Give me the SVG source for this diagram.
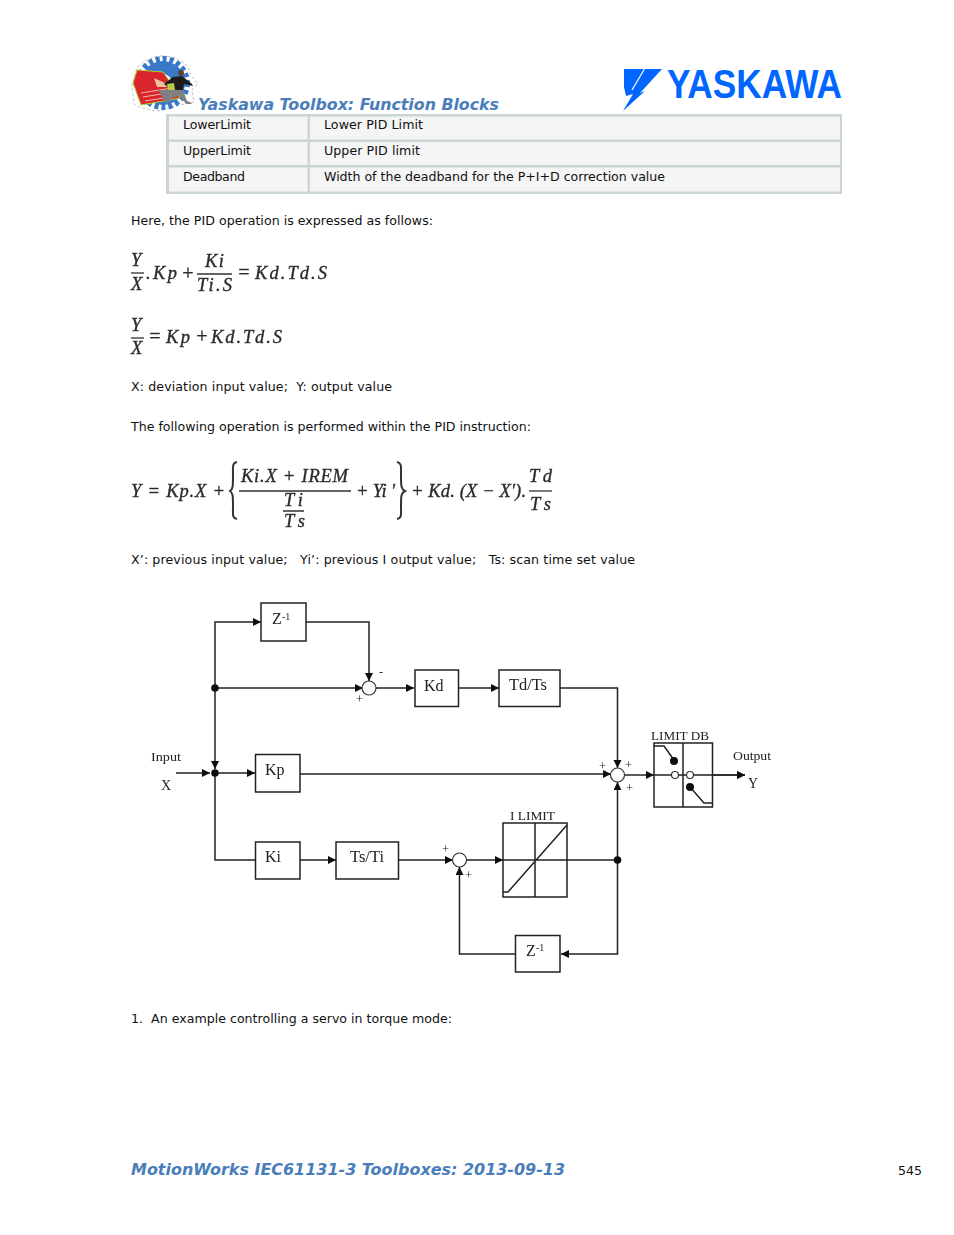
<svg xmlns="http://www.w3.org/2000/svg" width="954" height="1235" viewBox="0 0 954 1235">
<style>
.b{font-family:"DejaVu Sans","Liberation Sans",sans-serif;font-size:12.6px;fill:#111;white-space:pre}
.h{font-family:"DejaVu Sans","Liberation Sans",sans-serif;font-weight:bold;font-style:italic;fill:#4a7ebb}
.m{font-family:"Liberation Serif",serif;font-style:italic;font-size:18.5px;fill:#2b2b2b;stroke:#2b2b2b;stroke-width:.35}
.d{font-family:"Liberation Serif",serif;font-size:16px;fill:#222}
.s{font-family:"Liberation Serif",serif;font-size:12.5px;fill:#222}
.box{fill:#fff;stroke:#222;stroke-width:1.5}
.ln{fill:none;stroke:#222;stroke-width:1.5}
.ar{marker-end:url(#a)}
.o{fill:#fff;stroke:#333;stroke-width:1.2}
.bar{stroke:#333;stroke-width:1.3;fill:none}
.c{fill:#ccd5d5}
</style>
<defs>
<marker id="a" markerUnits="userSpaceOnUse" markerWidth="9" markerHeight="9" refX="8" refY="4" orient="auto"><path d="M0,0L8,4L0,8Z" fill="#111"/></marker>
<filter id="soft" x="-5%" y="-5%" width="110%" height="110%"><feGaussianBlur stdDeviation=".35"/></filter>
</defs>
<rect width="954" height="1235" fill="#fff"/>

<g id="toolbox-logo">
<path d="M162,56C180,56 190,66 190,74L198,84L192,90L194,102L176,106L160,111C145,110 137,106 134,104L132,84L137,68C145,60 152,56 162,56Z" fill="#fff" stroke="#c4c4c4" stroke-width="1" stroke-dasharray="3 2"/>
<circle cx="163" cy="83" r="24" fill="none" stroke="#3a78c8" stroke-width="6" stroke-dasharray="4 3"/>
<circle cx="163" cy="83" r="22" fill="#3a78c8"/>
<circle cx="163" cy="83" r="9" fill="#fff"/>
<path d="M137,70L163,72L178,93L180,98L141,105L133,83Z" fill="#d8262c" stroke="#b7d12a" stroke-width="1"/>
<path d="M141,93L172,88M143,97L174,92M145,101L176,96" stroke="#f3b7a6" stroke-width="1"/>
<path d="M154,78L165,83L167,87L157,87Z" fill="#efbf9f"/>
<path d="M173,77L182,76L192,84L193,86L184,84L183,90L172,90L164,84Z" fill="#1c1c1c"/>
<circle cx="181" cy="73" r="3" fill="#5e4234"/>
<path d="M167,84L174,83L175,90L168,90Z" fill="#b6cc45"/>
<path d="M172,90L183,90L187,101L190,102L192,104L186,104L180,96L172,98L166,104L158,90Z" fill="#808080"/>
</g>
<text id="header-title" class="h" x="198" y="110" font-size="16" textLength="301" lengthAdjust="spacingAndGlyphs">Yaskawa Toolbox: Function Blocks</text>
<g id="yaskawa-logo">
<path d="M624,69H662L640,93L645,91L623,111L633,94L626,96L624,87Z" fill="#0066ff"/>
<path d="M645,68L632,90" stroke="#fff" stroke-width="1.2"/>
<text x="667" y="98" font-family="Liberation Sans,sans-serif" font-weight="bold" font-size="41" fill="#0066ff" textLength="175" lengthAdjust="spacingAndGlyphs">YASKAWA</text>
</g>

<g id="table">
<rect x="166" y="114" width="676" height="80" class="c"/>
<rect x="169" y="116.500" width="138.500" height="23" fill="#f5f5f5"/><rect x="310" y="116.500" width="530" height="23" fill="#f5f5f5"/>
<rect x="169" y="142" width="138.500" height="23" fill="#f5f5f5"/><rect x="310" y="142" width="530" height="23" fill="#f5f5f5"/>
<rect x="169" y="167.500" width="138.500" height="24" fill="#f5f5f5"/><rect x="310" y="167.500" width="530" height="24" fill="#f5f5f5"/>
<text class="b" x="183" y="129" textLength="68">LowerLimit</text><text class="b" x="324" y="129" textLength="99">Lower PID Limit</text>
<text class="b" x="183" y="155" textLength="68">UpperLimit</text><text class="b" x="324" y="155" textLength="96">Upper PID limit</text>
<text class="b" x="183" y="181" textLength="62">Deadband</text><text class="b" x="324" y="181" textLength="341">Width of the deadband for the P+I+D correction value</text>
</g>

<text class="b" x="131" y="225" textLength="302">Here, the PID operation is expressed as follows:</text>
<text class="b" x="131" y="391" textLength="261">X: deviation input value;  Y: output value</text>
<text class="b" x="131" y="431" textLength="400">The following operation is performed within the PID instruction:</text>
<text class="b" x="131" y="564" textLength="504">X’: previous input value;   Yi’: previous I output value;   Ts: scan time set value</text>
<text class="b" x="131" y="1023" textLength="321">1.  An example controlling a servo in torque mode:</text>

<g id="equations" filter="url(#soft)">
<text class="m" x="131" y="266">Y</text>
<path class="bar" d="M131,273H144"/>
<text class="m" x="131" y="290">X</text>
<text class="m" x="146" y="279" textLength="31">.Kp</text>
<text class="m" x="181" y="280" style="font-size:20px">+</text>
<text class="m" x="205" y="267" textLength="19">Ki</text>
<path class="bar" d="M197,274H232"/>
<text class="m" x="197" y="291" textLength="35">Ti.S</text>
<text class="m" x="237" y="279" style="font-size:20px">=</text>
<text class="m" x="255" y="279" textLength="72">Kd.Td.S</text>

<text class="m" x="131" y="331">Y</text>
<path class="bar" d="M131,338H144"/>
<text class="m" x="131" y="354">X</text>
<text class="m" x="148" y="343" style="font-size:20px">=</text>
<text class="m" x="166" y="343" textLength="24">Kp</text>
<text class="m" x="195" y="343" style="font-size:20px">+</text>
<text class="m" x="211" y="343" textLength="71">Kd.Td.S</text>

<text class="m" x="131" y="497" textLength="94">Y = Kp.X +</text>
<path d="M237,462C232,463 233,467 233,476C233,486 233,489 230,491C233,493 233,496 233,506C233,515 232,518 237,519" fill="none" stroke="#333" stroke-width="2"/>
<text class="m" x="241" y="482" textLength="107">Ki.X + IREM</text>
<path class="bar" d="M239,491H351M283,511H304"/>
<text class="m" x="284" y="506" textLength="19">Ti</text>
<text class="m" x="284" y="527" textLength="21">Ts</text>
<text class="m" x="356" y="497" textLength="39">+ Yi ′</text>
<path d="M397,462C402,463 401,467 401,476C401,486 401,489 405,491C401,493 401,496 401,506C401,515 402,518 397,519" fill="none" stroke="#333" stroke-width="2"/>
<text class="m" x="411" y="497" textLength="115">+ Kd. (X − X′).</text>
<text class="m" x="529" y="482" textLength="23">Td</text>
<path class="bar" d="M529,491H552"/>
<text class="m" x="530" y="510" textLength="21">Ts</text>
</g>

<g id="connectors" filter="url(#soft)">
<path class="ln ar" d="M176,773H210"/>
<path class="ln ar" d="M215,773H255"/>
<path class="ln ar" d="M215,688V622H261"/>
<path class="ln ar" d="M215,688V769"/>
<path class="ln" d="M215,773V860H255"/>
<path class="ln ar" d="M215,688H363"/>
<path class="ln ar" d="M306,622H369V681"/>
<path class="ln ar" d="M376,688H414"/>
<path class="ln ar" d="M458,688H499"/>
<path class="ln ar" d="M560,688H617.5V768"/>
<path class="ln ar" d="M300,774H611"/>
<path class="ln ar" d="M625,775H654"/>
<path class="ln ar" d="M654,775H745"/>
<path class="ln ar" d="M617.5,860V782"/>
<path class="ln ar" d="M300,860H336"/>
<path class="ln ar" d="M398,860H453"/>
<path class="ln ar" d="M467,860H503"/>
<path class="ln ar" d="M617.5,860V954H561"/>
<path class="ln ar" d="M515,954H459.5V867"/>
<path class="ln" d="M503,860H617.5"/>
<circle cx="215" cy="688" r="3.800" fill="#111"/>
<circle cx="215" cy="773" r="3.800" fill="#111"/>
<circle cx="617.500" cy="860" r="3.800" fill="#111"/>
</g>

<g filter="url(#soft)">
<g id="z1-top"><rect class="box" x="261" y="603" width="45" height="38"/><text class="d" x="272" y="624">Z</text><text class="s" x="282" y="620" style="font-size:10px">-1</text></g>
<g id="sum-d"><circle class="o" cx="369" cy="688" r="7"/><text class="s" x="379" y="676">-</text><text class="s" x="356" y="703">+</text></g>
<g id="kd"><rect class="box" x="415" y="670" width="43.500" height="36.500"/><text class="d" x="424" y="691">Kd</text></g>
<g id="tdts"><rect class="box" x="499" y="670" width="61" height="36.500"/><text class="d" x="509" y="690" textLength="38" lengthAdjust="spacingAndGlyphs">Td/Ts</text></g>
<g id="kp"><rect class="box" x="255.500" y="754.500" width="44.500" height="37.500"/><text class="d" x="265" y="775">Kp</text></g>
<g id="input-label"><text class="s" x="151" y="761" textLength="30" lengthAdjust="spacingAndGlyphs">Input</text><text class="d" x="161" y="790" style="font-size:14px">X</text></g>
<g id="sum-p"><circle class="o" cx="617.500" cy="775" r="7"/><text class="s" x="599" y="770">+</text><text class="s" x="625" y="769">+</text><text class="s" x="626" y="792">+</text></g>
<g id="limit-db">
<rect class="box" x="654" y="743" width="58.500" height="64"/>
<path class="ln" d="M683,743V807M654,775H712M654,746H664L674,760M690,787L704,803H713"/>
<circle cx="674" cy="761" r="4" fill="#111"/><circle cx="690" cy="787" r="4" fill="#111"/>
<circle class="o" cx="675" cy="775" r="3.500"/><circle class="o" cx="690" cy="775" r="3.500"/>
<path class="ln ar" d="M712,775H745"/>
<text class="s" x="651" y="740" textLength="58" lengthAdjust="spacingAndGlyphs">LIMIT DB</text>
</g>
<g id="output-label"><text class="s" x="733" y="760" textLength="38" lengthAdjust="spacingAndGlyphs">Output</text><text class="d" x="748" y="788" style="font-size:14px">Y</text></g>
<g id="ki"><rect class="box" x="255.500" y="842" width="44.500" height="37"/><text class="d" x="265" y="862">Ki</text></g>
<g id="tsti"><rect class="box" x="336" y="842" width="62.500" height="37"/><text class="d" x="350" y="862" textLength="34" lengthAdjust="spacingAndGlyphs">Ts/Ti</text></g>
<g id="sum-i"><circle class="o" cx="459.500" cy="860" r="7"/><text class="s" x="442" y="853">+</text><text class="s" x="465" y="879">+</text></g>
<g id="i-limit">
<rect class="box" x="503" y="823" width="64" height="74"/>
<path class="ln" d="M535,823V897M503,860H567M503,892H508L567,825"/>
<text class="s" x="510" y="820" textLength="45" lengthAdjust="spacingAndGlyphs">I LIMIT</text>
</g>
<g id="z1-bottom"><rect class="box" x="515.500" y="935.500" width="44.500" height="36.500"/><text class="d" x="526" y="956">Z</text><text class="s" x="536" y="951" style="font-size:10px">-1</text></g>
</g>

<text id="footer-title" class="h" x="131" y="1175" font-size="16" textLength="434" lengthAdjust="spacingAndGlyphs">MotionWorks IEC61131-3 Toolboxes: 2013-09-13</text>
<text id="page-number" class="b" x="898" y="1175">545</text>
</svg>
